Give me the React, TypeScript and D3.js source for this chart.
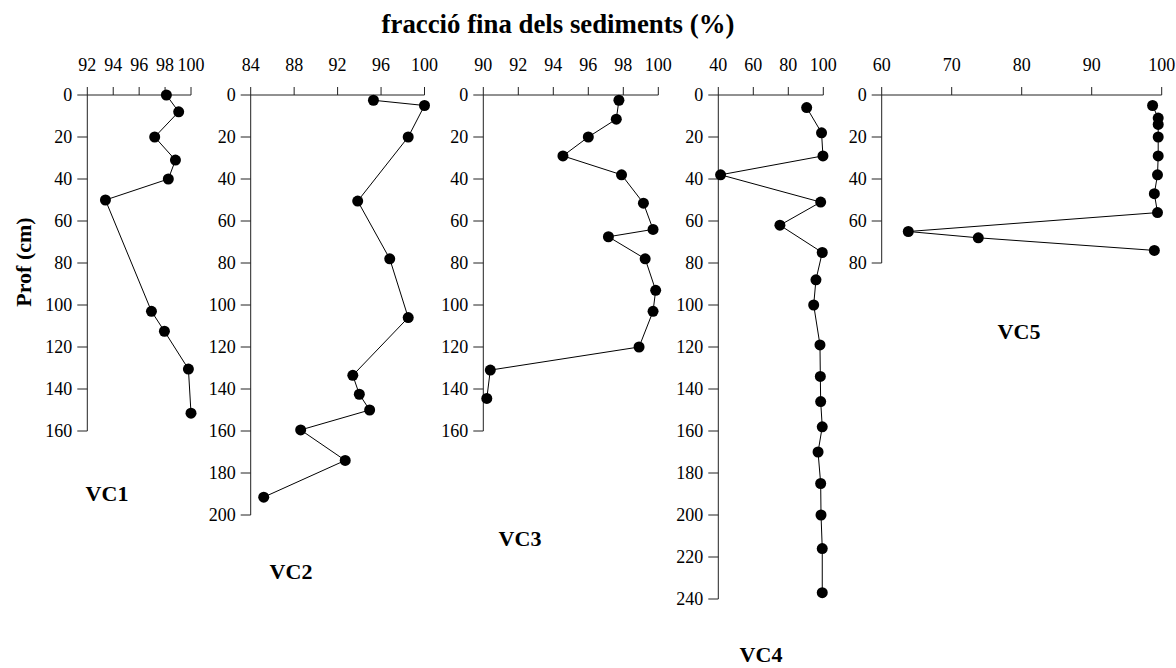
import React from "react";
import * as d3 from "d3";

// ---- data (depth in cm, fine fraction in %) ----
const vc1Depth = [0, 8, 20, 31, 40, 50, 103, 112.5, 130.5, 151.5];
const vc1Value = [98.1, 99.05, 97.2, 98.8, 98.25, 93.4, 96.95, 97.95, 99.8, 100];

const vc2Depth = [2.5, 5, 20, 50.5, 78, 106, 133.5, 142.5, 150, 159.5, 174, 191.5];
const vc2Value = [95.3, 100, 98.5, 93.85, 96.8, 98.5, 93.4, 94, 94.95, 88.6, 92.7, 85.2];

const vc3Depth = [2.5, 11.5, 20, 29, 38, 51.5, 64, 67.5, 78, 93, 103, 120, 131, 144.5];
const vc3Value = [97.75, 97.6, 96, 94.55, 97.9, 99.15, 99.7, 97.15, 99.25, 99.85, 99.7, 98.9, 90.4, 90.2];

const vc4Depth = [6, 18, 29, 38, 51, 62, 75, 88, 100, 119, 134, 146, 158, 170, 185, 200, 216, 237];
const vc4Value = [90.5, 99, 99.8, 41.3, 98.5, 75.2, 99.4, 95.8, 94.5, 98.1, 98.3, 98.5, 99.4, 97, 98.5, 98.7, 99.4, 99.4];

const vc5Depth = [5, 11, 14, 20, 29, 38, 47, 56, 65, 68, 74];
const vc5Value = [98.7, 99.5, 99.5, 99.5, 99.5, 99.4, 98.95, 99.4, 63.8, 73.8, 98.95];

const coreNames = ["VC1", "VC2", "VC3", "VC4", "VC5"];
const xTicks1 = [92, 94, 96, 98, 100];
const xTicks2 = [84, 88, 92, 96, 100];
const xTicks3 = [90, 92, 94, 96, 98, 100];
const xTicks4 = [40, 60, 80, 100];
const xTicks5 = [60, 70, 80, 90, 100];
const yMax = [160, 200, 160, 240, 80];

const title = "fracció fina dels sediments (%)";
const yTitle = "Prof (cm)";

// ---- layout ----
const W = 1176;
const H = 668;
const FONT = "'Liberation Serif', 'Times New Roman', serif";
const yTop = 95;
const pxPerCm = 2.1;

const panels = [
  { depth: vc1Depth, value: vc1Value, ticks: xTicks1, x0: 87.3, x1: 191, label: [107, 501] },
  { depth: vc2Depth, value: vc2Value, ticks: xTicks2, x0: 250.7, x1: 424.5, label: [291, 579] },
  { depth: vc3Depth, value: vc3Value, ticks: xTicks3, x0: 483.3, x1: 658.3, label: [520, 546] },
  { depth: vc4Depth, value: vc4Value, ticks: xTicks4, x0: 718.3, x1: 823.3, label: [761, 662] },
  { depth: vc5Depth, value: vc5Value, ticks: xTicks5, x0: 881.7, x1: 1161.7, label: [1019, 339] },
];

function Panel({ p, i }: { p: any; i: number }) {
  const tks: number[] = p.ticks;
  const x = d3.scaleLinear().domain([tks[0], tks[tks.length - 1]]).range([p.x0, p.x1]);
  const ymax = yMax[i];
  const y = d3.scaleLinear().domain([0, ymax]).range([yTop, yTop + ymax * pxPerCm]);
  const yTicks = d3.range(0, ymax + 1, 20);
  const pts: [number, number][] = p.depth.map((d: number, k: number) => [x(p.value[k]), y(d)]);
  const line = d3.line<[number, number]>()(pts) || "";
  const ax = x(tks[0]);
  const stroke = "#222";
  return (
    <g>
      <line x1={ax} x2={ax} y1={y(0)} y2={y(ymax)} stroke={stroke} strokeWidth={1} />
      {yTicks.map((t) => (
        <g key={"y" + t}>
          <line x1={ax - 10} x2={ax} y1={y(t)} y2={y(t)} stroke={stroke} strokeWidth={1} />
          <text x={ax - 15} y={y(t)} dy="0.35em" textAnchor="end" fontSize={18} fontFamily={FONT}>
            {t}
          </text>
        </g>
      ))}
      <line x1={ax} x2={x(tks[tks.length - 1])} y1={y(0)} y2={y(0)} stroke={stroke} strokeWidth={1} />
      {tks.map((t) => (
        <g key={"x" + t}>
          <line x1={x(t)} x2={x(t)} y1={y(0) - 8} y2={y(0)} stroke={stroke} strokeWidth={1} />
          <text x={x(t)} y={71} textAnchor="middle" fontSize={18} fontFamily={FONT}>
            {t}
          </text>
        </g>
      ))}
      <path d={line} fill="none" stroke="#000" strokeWidth={1} />
      {pts.map((q, k) => (
        <circle key={k} cx={q[0]} cy={q[1]} r={5.5} fill="#000" />
      ))}
      <text x={p.label[0]} y={p.label[1]} textAnchor="middle" fontSize={22} fontWeight="bold" fontFamily={FONT}>
        {coreNames[i]}
      </text>
    </g>
  );
}

export default function App() {
  return (
    <svg width={W} height={H} style={{ position: "absolute", left: 0, top: 0, background: "#fff" }}>
      <rect width={W} height={H} fill="#fff" />
      <text x={558} y={33} textAnchor="middle" fontSize={26.8} fontWeight="bold" fontFamily={FONT}>
        {title}
      </text>
      <text
        transform="translate(31,262) rotate(-90)"
        textAnchor="middle"
        fontSize={22}
        fontWeight="bold"
        fontFamily={FONT}
      >
        {yTitle}
      </text>
      {panels.map((p, i) => (
        <Panel key={i} p={p} i={i} />
      ))}
    </svg>
  );
}
